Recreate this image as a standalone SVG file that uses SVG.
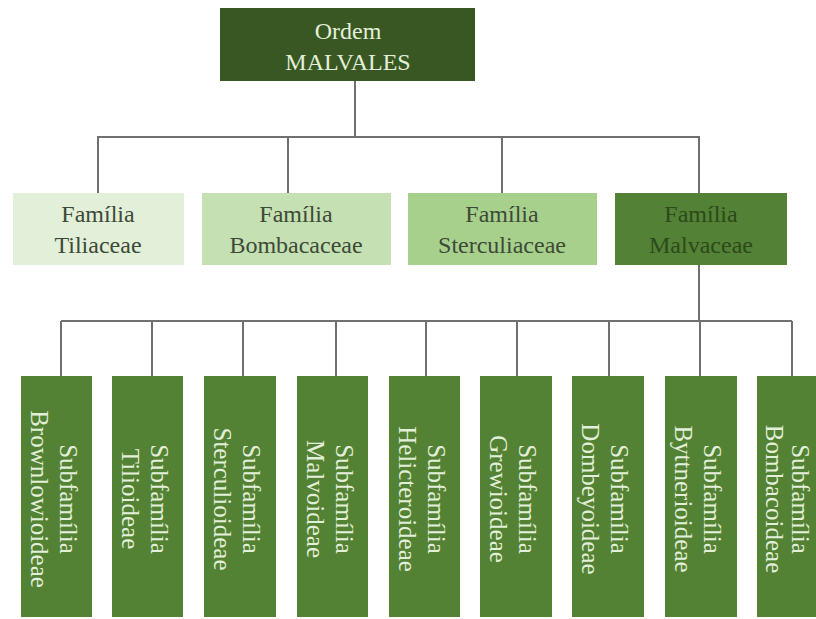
<svg xmlns="http://www.w3.org/2000/svg" width="816" height="619" viewBox="0 0 816 619">
<style>
.t{font-family:"Liberation Serif","Times New Roman",serif;font-size:24px;text-anchor:middle}
.lt{fill:#e2efd9}
.dk{fill:#3d4a36}
.dm{fill:#2c4a1a}
.sub{fill:#548235}
.ln{stroke:#707070;stroke-width:2;fill:none}
.st{font-family:"Liberation Serif","Times New Roman",serif;font-size:25px;text-anchor:middle;fill:#e2efd9}
</style>
<rect width="816" height="619" fill="#ffffff"/>
<g id="connectors">
<path class="ln" d="M355 81V137M97 137H700M98 137V193M288 137V193M502 137V193M699 137V193"/>
<path class="ln" d="M699 265V321M61 321H792M61 321V376M152 321V376M243 321V376M336 321V376M426 321V376M517 321V376M609 321V376M700 321V376M792 321V376"/>
</g>
<g id="ordem">
<rect x="220" y="8" width="255" height="73" fill="#385723"/>
<text class="t lt" x="348" y="39">Ordem</text>
<text class="t lt" x="348" y="70">MALVALES</text>
</g>
<g id="tiliaceae">
<rect x="13" y="193" width="171" height="72" fill="#e2efd9"/>
<text class="t dk" x="98" y="222">Família</text>
<text class="t dk" x="98" y="253">Tiliaceae</text>
</g>
<g id="bombacaceae">
<rect x="202" y="193" width="189" height="72" fill="#c5e0b3"/>
<text class="t dk" x="296" y="222">Família</text>
<text class="t dk" x="296" y="253">Bombacaceae</text>
</g>
<g id="sterculiaceae">
<rect x="408" y="193" width="189" height="72" fill="#a8d08d"/>
<text class="t dk" x="502" y="222">Família</text>
<text class="t dk" x="502" y="253">Sterculiaceae</text>
</g>
<g id="malvaceae">
<rect x="615" y="193" width="172" height="72" fill="#538135"/>
<text class="t dm" x="701" y="222">Família</text>
<text class="t dm" x="701" y="253">Malvaceae</text>
</g>
<g id="brownlowioideae">
<rect class="sub" x="21" y="376" width="71" height="241"/>
<text class="st" transform="translate(60,499) rotate(90)">Subfamília</text>
<text class="st" transform="translate(31,499) rotate(90)">Brownlowioideae</text>
</g>
<g id="tilioideae">
<rect class="sub" x="112" y="376" width="71" height="241"/>
<text class="st" transform="translate(151,499) rotate(90)">Subfamília</text>
<text class="st" transform="translate(122,499) rotate(90)">Tilioideae</text>
</g>
<g id="sterculioideae">
<rect class="sub" x="204" y="376" width="72" height="241"/>
<text class="st" transform="translate(243,499) rotate(90)">Subfamília</text>
<text class="st" transform="translate(214,499) rotate(90)">Sterculioideae</text>
</g>
<g id="malvoideae">
<rect class="sub" x="297" y="376" width="71" height="241"/>
<text class="st" transform="translate(336,499) rotate(90)">Subfamília</text>
<text class="st" transform="translate(307,499) rotate(90)">Malvoideae</text>
</g>
<g id="helicteroideae">
<rect class="sub" x="389" y="376" width="71" height="241"/>
<text class="st" transform="translate(428,499) rotate(90)">Subfamília</text>
<text class="st" transform="translate(399,499) rotate(90)">Helicteroideae</text>
</g>
<g id="grewioideae">
<rect class="sub" x="480" y="376" width="72" height="241"/>
<text class="st" transform="translate(519,499) rotate(90)">Subfamília</text>
<text class="st" transform="translate(490,499) rotate(90)">Grewioideae</text>
</g>
<g id="dombeyoideae">
<rect class="sub" x="572" y="376" width="72" height="241"/>
<text class="st" transform="translate(611,499) rotate(90)">Subfamília</text>
<text class="st" transform="translate(582,499) rotate(90)">Dombeyoideae</text>
</g>
<g id="byttnerioideae">
<rect class="sub" x="665" y="376" width="72" height="241"/>
<text class="st" transform="translate(704,499) rotate(90)">Subfamília</text>
<text class="st" transform="translate(675,499) rotate(90)">Byttnerioideae</text>
</g>
<g id="bombacoideae">
<rect class="sub" x="757" y="376" width="72" height="241"/>
<text class="st" transform="translate(792,499) rotate(90)">Subfamília</text>
<text class="st" transform="translate(766,499) rotate(90)">Bombacoideae</text>
</g>
</svg>
